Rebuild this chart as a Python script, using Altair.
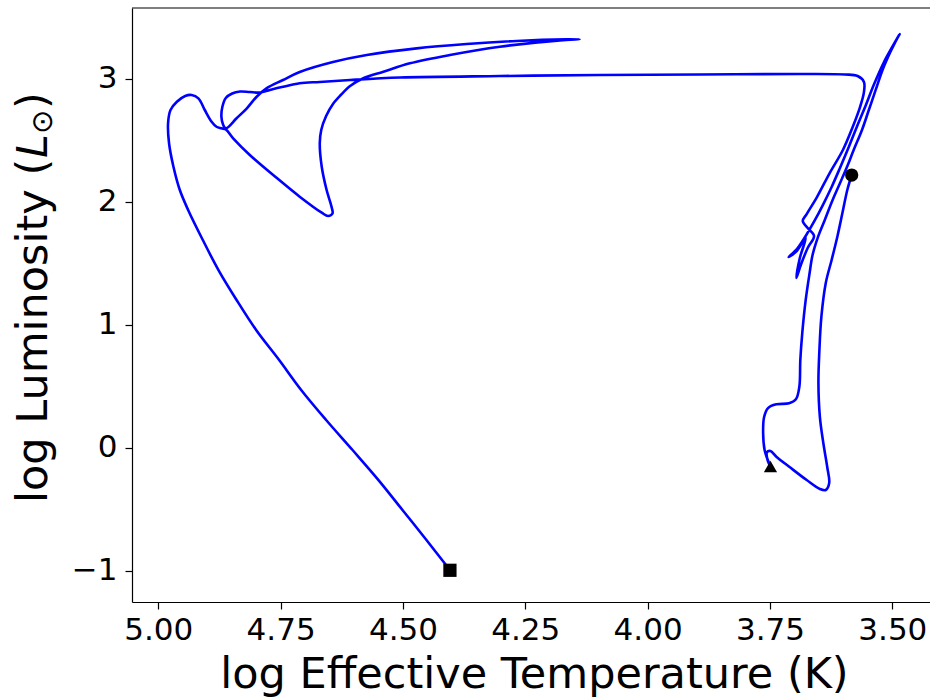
import altair as alt
import pandas as pd

# Evolutionary track (log Teff, log L), in drawing order
teff = [
    3.583, 3.592, 3.602, 3.612, 3.624, 3.636, 3.645, 3.649, 3.651, 3.648,
    3.641, 3.633, 3.629, 3.636, 3.648, 3.675, 3.710, 3.737, 3.749, 3.756,
    3.755, 3.749,
    3.756, 3.761, 3.764, 3.762, 3.754, 3.737, 3.711, 3.697, 3.690, 3.688,
    3.684, 3.677, 3.669, 3.663,
    3.652, 3.638, 3.622, 3.605, 3.591, 3.579, 3.562, 3.548, 3.534, 3.520,
    3.505, 3.495, 3.485,
    3.499, 3.517, 3.538, 3.554, 3.571, 3.589, 3.607, 3.624, 3.642, 3.658,
    3.677, 3.695, 3.712, 3.697, 3.677, 3.689, 3.696, 3.687, 3.673, 3.660,
    3.673, 3.683, 3.675,
    3.654, 3.628, 3.601, 3.581, 3.566, 3.558, 3.558, 3.571, 3.597,
    3.689, 3.893, 4.098, 4.302, 4.506, 4.608, 4.670, 4.711, 4.745, 4.772,
    4.792, 4.813, 4.833, 4.849, 4.862, 4.869, 4.871, 4.868, 4.862,
    4.840, 4.819, 4.799, 4.779, 4.745, 4.711, 4.643, 4.574, 4.472, 4.370,
    4.268, 4.166, 4.139,
    4.179, 4.302, 4.404, 4.486, 4.540, 4.581, 4.608, 4.627, 4.643, 4.657,
    4.667, 4.670, 4.666, 4.656, 4.646, 4.644, 4.653, 4.666,
    4.711, 4.757, 4.813, 4.847, 4.862,
    4.871, 4.881, 4.891, 4.905, 4.918, 4.932, 4.945, 4.962, 4.975, 4.980,
    4.978, 4.969, 4.956, 4.939,
    4.909, 4.877, 4.840, 4.800, 4.753, 4.708, 4.657, 4.603, 4.550, 4.501,
    4.452, 4.404,
]
lum = [
    2.216, 2.094, 1.907, 1.721, 1.526, 1.339, 1.063, 0.794, 0.526, 0.250,
    0.039, -0.156, -0.286, -0.343, -0.335, -0.262, -0.156, -0.072, -0.026, -0.034,
    -0.099, -0.152,
    -0.083, -0.018, 0.120, 0.250, 0.323, 0.353, 0.361, 0.394, 0.496, 0.713,
    0.933, 1.201, 1.420, 1.566,
    1.712, 1.851, 2.013, 2.167, 2.297, 2.419, 2.582, 2.744, 2.907, 3.069,
    3.207, 3.288, 3.361,
    3.264, 3.134, 2.947, 2.785, 2.622, 2.443, 2.273, 2.119, 1.972, 1.851,
    1.721, 1.615, 1.550, 1.591, 1.704, 1.542, 1.379, 1.485, 1.623, 1.721,
    1.785, 1.842, 1.899,
    2.037, 2.232, 2.419, 2.606, 2.768, 2.890, 2.972, 3.020, 3.033,
    3.037, 3.033, 3.028, 3.020, 3.008, 2.988, 2.972, 2.961, 2.933, 2.907,
    2.886, 2.890, 2.894, 2.878, 2.842, 2.771, 2.690, 2.630, 2.595,
    2.677, 2.758, 2.852, 2.920, 2.988, 3.053, 3.134, 3.191, 3.245, 3.280,
    3.305, 3.318, 3.318,
    3.310, 3.258, 3.191, 3.123, 3.055, 3.002, 2.939, 2.866, 2.793, 2.695,
    2.582, 2.474, 2.283, 2.094, 1.959, 1.903, 1.883, 1.910,
    2.040, 2.189, 2.379, 2.514, 2.586,
    2.595, 2.608, 2.649, 2.744, 2.839, 2.866, 2.858, 2.811, 2.744, 2.636,
    2.474, 2.283, 2.094, 1.932,
    1.688, 1.444, 1.201, 0.957, 0.713, 0.470, 0.226, -0.018, -0.262, -0.505,
    -0.749, -0.993,
]

# Special points
mark_teff = [3.583, 3.749, 4.404]
mark_lum = [2.216, -0.152, -0.995]
mark_kind = ["circle", "triangle", "square"]

x_ticks = [5.00, 4.75, 4.50, 4.25, 4.00, 3.75, 3.50]
y_ticks = [-1, 0, 1, 2, 3]

# y-axis title pieces: plain, italic, subscript, plain
ytitle_parts = ["log Luminosity (", "L", "⊙", ")"]

W, H = 798, 594
FONT = "DejaVu Sans"

track = pd.DataFrame({"teff": teff, "lum": lum, "idx": list(range(len(teff)))})
marks = pd.DataFrame({"teff": mark_teff, "lum": mark_lum, "kind": mark_kind})
one = pd.DataFrame({"a": [0]})

xscale = alt.Scale(domain=[5.0537, 3.423], zero=False, nice=False)
yscale = alt.Scale(domain=[-1.2526, 3.5727], zero=False, nice=False)

xaxis = alt.Axis(
    values=x_ticks, format=".2f", title="log Effective Temperature (K)",
    grid=False, tickSize=7, labelPadding=6, titleX=402, titleY=85,
    titleBaseline="alphabetic",
)
yaxis = alt.Axis(
    values=y_ticks, format="d", title="",
    grid=False, tickSize=7, labelPadding=8,
)

line = alt.Chart(track).mark_line(
    color="#0000ff", strokeWidth=2.6, interpolate="catmull-rom", clip=True
).encode(
    x=alt.X("teff:Q", scale=xscale, axis=xaxis),
    y=alt.Y("lum:Q", scale=yscale, axis=yaxis),
    order="idx:Q",
)

pts = alt.Chart(marks).mark_point(filled=True, opacity=1, color="black", size=175).encode(
    x=alt.X("teff:Q", scale=xscale),
    y=alt.Y("lum:Q", scale=yscale),
    shape=alt.Shape(
        "kind:N",
        scale=alt.Scale(domain=["circle", "triangle", "square"],
                        range=["circle", "triangle-up", "square"]),
        legend=None,
    ),
)

top = alt.Chart(one).mark_rule(color="black", strokeWidth=1.2).encode(
    x=alt.value(0), x2=alt.value(W), y=alt.value(0)
)


def ytext(txt, x, y, size, style="normal"):
    return alt.Chart(one).mark_text(
        text=txt, angle=270, align="left", baseline="alphabetic",
        font=FONT, fontSize=size, fontStyle=style, color="black",
    ).encode(x=alt.value(x), y=alt.value(y))


yt1 = ytext(ytitle_parts[0], -85, 495, 43)
yt2 = ytext(ytitle_parts[1], -85, 150, 43, "italic")
yt3 = ytext(ytitle_parts[2], -80, 126, 29)
yt4 = ytext(ytitle_parts[3], -85, 101, 43)

chart = alt.layer(line, pts, top, yt1, yt2, yt3, yt4).properties(
    width=W, height=H,
    autosize=alt.AutoSizeParams(type="none"),
    padding={"left": 132, "top": 8, "right": 0, "bottom": 96},
).configure_view(stroke="transparent").configure_axis(
    labelFont=FONT, titleFont=FONT,
    labelFontSize=31, titleFontSize=43, titleFontWeight="normal",
    labelColor="black", titleColor="black",
    domainColor="black", domainWidth=1.2, tickColor="black", tickWidth=1.2,
)

chart.save("out.html", embed_options={"renderer": "svg", "actions": False})
